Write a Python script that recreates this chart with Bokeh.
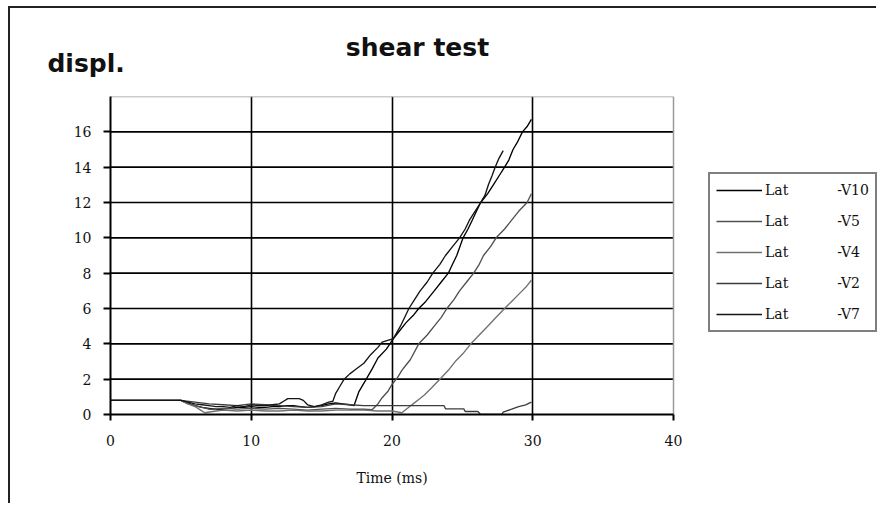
from bokeh.plotting import figure
from bokeh.models import Range1d, FixedTicker, Legend, LegendItem, Label
from bokeh.embed import file_html
from bokeh.resources import INLINE

# ---- data ----
TITLE = "shear test"
Y_LABEL = "displ."
X_LABEL = "Time (ms)"
X_TICKS = [0, 10, 20, 30, 40]
Y_TICKS = [0, 2, 4, 6, 8, 10, 12, 14, 16]
Y_MAX = 18

V10_T = [0, 5, 5.5, 6, 6.5, 7, 7.5, 8, 8.5, 9,
         9.5, 10, 10.5, 11, 11.5, 12, 12.5, 13, 13.5, 14,
         14.5, 15, 15.5, 16, 16.5, 17, 17.3, 17.65, 18.1, 18.6,
         19, 19.6, 20.1, 20.5, 21, 21.5, 21.9, 22.4, 23, 23.5,
         24, 24.3, 24.6, 25.05, 25.4, 25.7, 26, 26.3, 26.8, 27.2,
         27.6, 28, 28.3, 28.6, 28.9, 29.27, 29.6, 29.9]
V10_D = [0.8, 0.8, 0.65, 0.5, 0.4, 0.35, 0.3, 0.3, 0.35, 0.4,
         0.4, 0.45, 0.4, 0.4, 0.45, 0.45, 0.5, 0.5, 0.45, 0.4,
         0.45, 0.5, 0.6, 0.65, 0.6, 0.55, 0.5, 1.3, 1.9, 2.6,
         3.2, 3.7, 4.3, 4.7, 5.2, 5.6, 6.0, 6.4, 7.0, 7.5,
         8.0, 8.5, 9.0, 10.0, 10.5, 11.0, 11.5, 12.0, 12.5, 13.0,
         13.5, 14.0, 14.4, 15.0, 15.4, 16.0, 16.3, 16.7]

V7_T = [0, 5, 5.5, 6, 6.5, 7, 7.5, 8, 8.5, 9,
        9.5, 10, 10.5, 11, 11.5, 12, 12.3, 12.6, 13, 13.4,
        13.7, 14, 14.5, 15, 15.5, 15.8, 16, 16.3, 16.6, 17,
        17.5, 18, 18.5, 19, 19.3, 19.7, 20.1, 20.6, 21.2, 21.6,
        22, 22.5, 22.9, 23.4, 23.8, 24.3, 24.8, 25.2, 25.5, 25.9,
        26.3, 26.6, 26.85, 27.1, 27.33, 27.6, 27.9]
V7_D = [0.8, 0.8, 0.7, 0.6, 0.55, 0.5, 0.45, 0.45, 0.4, 0.5,
        0.45, 0.55, 0.5, 0.5, 0.55, 0.6, 0.75, 0.9, 0.9, 0.9,
        0.8, 0.55, 0.45, 0.55, 0.7, 0.75, 1.2, 1.6, 2.0, 2.3,
        2.6, 2.9, 3.4, 3.8, 4.1, 4.2, 4.3, 5.0, 6.0, 6.5,
        7.0, 7.5, 8.0, 8.5, 9.0, 9.5, 10.0, 10.5, 11.0, 11.5,
        12.0, 12.4, 13.0, 13.5, 14.0, 14.5, 14.94]

V5_T = [0, 5, 5.5, 6, 6.5, 7, 7.5, 8, 9, 10,
        11, 12, 13, 14, 15, 16, 17, 18, 18.6, 19,
        19.3, 19.7, 20, 20.4, 20.7, 21, 21.3, 21.9, 22.5, 23,
        23.5, 23.9, 24.4, 24.8, 25.3, 25.8, 26.2, 26.5, 27, 27.4,
        28, 28.5, 29, 29.6, 29.9]
V5_D = [0.8, 0.8, 0.6, 0.5, 0.4, 0.3, 0.3, 0.35, 0.3, 0.35,
        0.3, 0.35, 0.3, 0.25, 0.3, 0.35, 0.3, 0.3, 0.28, 0.6,
        0.95, 1.3, 1.7, 2.1, 2.5, 2.8, 3.1, 4.0, 4.5, 5.0,
        5.5, 6.0, 6.5, 7.0, 7.5, 8.0, 8.5, 9.0, 9.5, 10.0,
        10.5, 11.0, 11.5, 12.0, 12.5]

V4_T = [0, 5, 5.5, 6, 6.4, 6.7, 7.5, 8, 9, 10,
        11, 12, 13, 14, 15, 16, 17, 18, 19, 20,
        20.7, 21.1, 21.5, 21.9, 22.3, 22.8, 23.4, 24, 24.56, 25.1,
        25.6, 26.2, 26.8, 27.4, 28, 28.5, 29, 29.5, 29.9]
V4_D = [0.8, 0.8, 0.6, 0.45, 0.25, 0.1, 0.2, 0.25, 0.2, 0.25,
        0.2, 0.2, 0.25, 0.2, 0.2, 0.25, 0.25, 0.25, 0.2, 0.2,
        0.1, 0.35, 0.6, 0.85, 1.1, 1.5, 2.0, 2.5, 3.06, 3.5,
        4.0, 4.5, 5.0, 5.5, 6.0, 6.4, 6.8, 7.2, 7.6]

V2_T = [0, 5, 6, 7, 8, 9, 10, 11, 12, 13,
        14, 15, 16, 17, 18, 19, 20, 21, 22, 23,
        23.7, 23.8, 25.1, 25.2, 26.1, 26.3, 27.8, 27.9, 28.5, 29,
        29.5, 29.9]
V2_D = [0.8, 0.8, 0.7, 0.6, 0.55, 0.5, 0.6, 0.55, 0.5, 0.45,
        0.4, 0.45, 0.6, 0.55, 0.5, 0.5, 0.5, 0.5, 0.5, 0.5,
        0.5, 0.32, 0.32, 0.17, 0.17, 0.0, 0.0, 0.13, 0.3, 0.45,
        0.55, 0.7]

GAP = "\u00a0" * 11
SERIES = [
    ("Lat" + GAP + "-V10", V10_T, V10_D, "#000000"),
    ("Lat" + GAP + "-V5", V5_T, V5_D, "#505050"),
    ("Lat" + GAP + "-V4", V4_T, V4_D, "#707070"),
    ("Lat" + GAP + "-V2", V2_T, V2_D, "#3c3c3c"),
    ("Lat" + GAP + "-V7", V7_T, V7_D, "#141414"),
]

# ---- layout: the frame runs to the right edge so the legend can sit in it ----
W, H = 868, 497
LEFT, TOP, BOTTOM = 100, 88, 91
PLOT_W = 563                      # pixel width of the 0..40 plotting area
X_MAX = X_TICKS[-1]
X_END = X_MAX * (W - LEFT) / PLOT_W

p = figure(width=W, height=H, x_range=Range1d(0, X_END), y_range=Range1d(0, Y_MAX),
           output_backend="svg", toolbar_location=None,
           min_border_left=LEFT, min_border_right=0,
           min_border_top=TOP, min_border_bottom=BOTTOM)
p.styles = {"margin-left": "8px", "margin-top": "6px",
            "border-left": "2px solid #222", "border-top": "2px solid #222"}
p.background_fill_color = "white"
p.border_fill_color = "white"
p.outline_line_color = None

for ax in (p.xaxis[0], p.yaxis[0]):
    ax.axis_line_color = "black"
    ax.axis_line_width = 2
    ax.major_tick_line_color = "black"
    ax.major_tick_line_width = 2
    ax.major_tick_in = 0
    ax.minor_tick_in = 0
    ax.minor_tick_out = 0
    ax.major_label_text_font = "DejaVu Serif"
    ax.major_label_text_font_size = "14px"
    ax.major_label_text_color = "#111111"

p.xaxis.bounds = (0, X_MAX)
p.xaxis.ticker = FixedTicker(ticks=X_TICKS)
p.yaxis.ticker = FixedTicker(ticks=Y_TICKS)
p.xaxis.major_tick_out = 6
p.yaxis.major_tick_out = 7
p.xaxis.major_label_standoff = 14
p.yaxis.major_label_standoff = 12

# vertical grid lines at 10, 20, 30 (full height)
p.xgrid.ticker = FixedTicker(ticks=X_TICKS[1:-1])
p.xgrid.grid_line_color = "black"
p.xgrid.grid_line_width = 1.6
p.ygrid.visible = False

# horizontal grid lines only across the 0..40 plotting area
gy = Y_TICKS[1:]
p.segment(x0=[0] * len(gy), y0=gy, x1=[X_MAX] * len(gy), y1=gy,
          line_color="black", line_width=1.6)
# grey plot-area border (top and right)
p.segment(x0=[0, X_MAX], y0=[Y_MAX, 0], x1=[X_MAX, X_MAX], y1=[Y_MAX, Y_MAX],
          line_color="#9a9a9a", line_width=1.5)

items = []
for name, t, d, col in SERIES:
    r = p.line(t, d, line_color=col, line_width=1.35)
    items.append(LegendItem(label=name, renderers=[r]))

legend = Legend(items=items, location=(598, 82))
legend.label_text_font = "DejaVu Serif"
legend.label_text_font_size = "14px"
legend.label_text_color = "#111111"
legend.glyph_width = 46
legend.glyph_height = 20
legend.label_height = 20
legend.spacing = 11
legend.padding = 6
legend.margin = 0
legend.label_standoff = 3
legend.border_line_color = "black"
legend.border_line_width = 2
legend.background_fill_color = "white"
legend.background_fill_alpha = 1.0
p.add_layout(legend, "center")

p.add_layout(Label(x=21.81, y=20.77, text=TITLE, text_align="center",
                   text_baseline="alphabetic", text_font="DejaVu Sans",
                   text_font_style="bold", text_font_size="25px", text_color="#111111"), "above")
p.add_layout(Label(x=-4.48, y=19.87, text=Y_LABEL, text_align="left",
                   text_baseline="alphabetic", text_font="DejaVu Sans",
                   text_font_style="bold", text_font_size="25px", text_color="#111111"), "above")
p.add_layout(Label(x=X_MAX / 2, y=-3.57, text=X_LABEL, text_align="center",
                   text_baseline="middle", text_font="DejaVu Serif",
                   text_font_size="14px", text_color="#111111"), "below")

open("out.html", "w").write(file_html(p, INLINE))
